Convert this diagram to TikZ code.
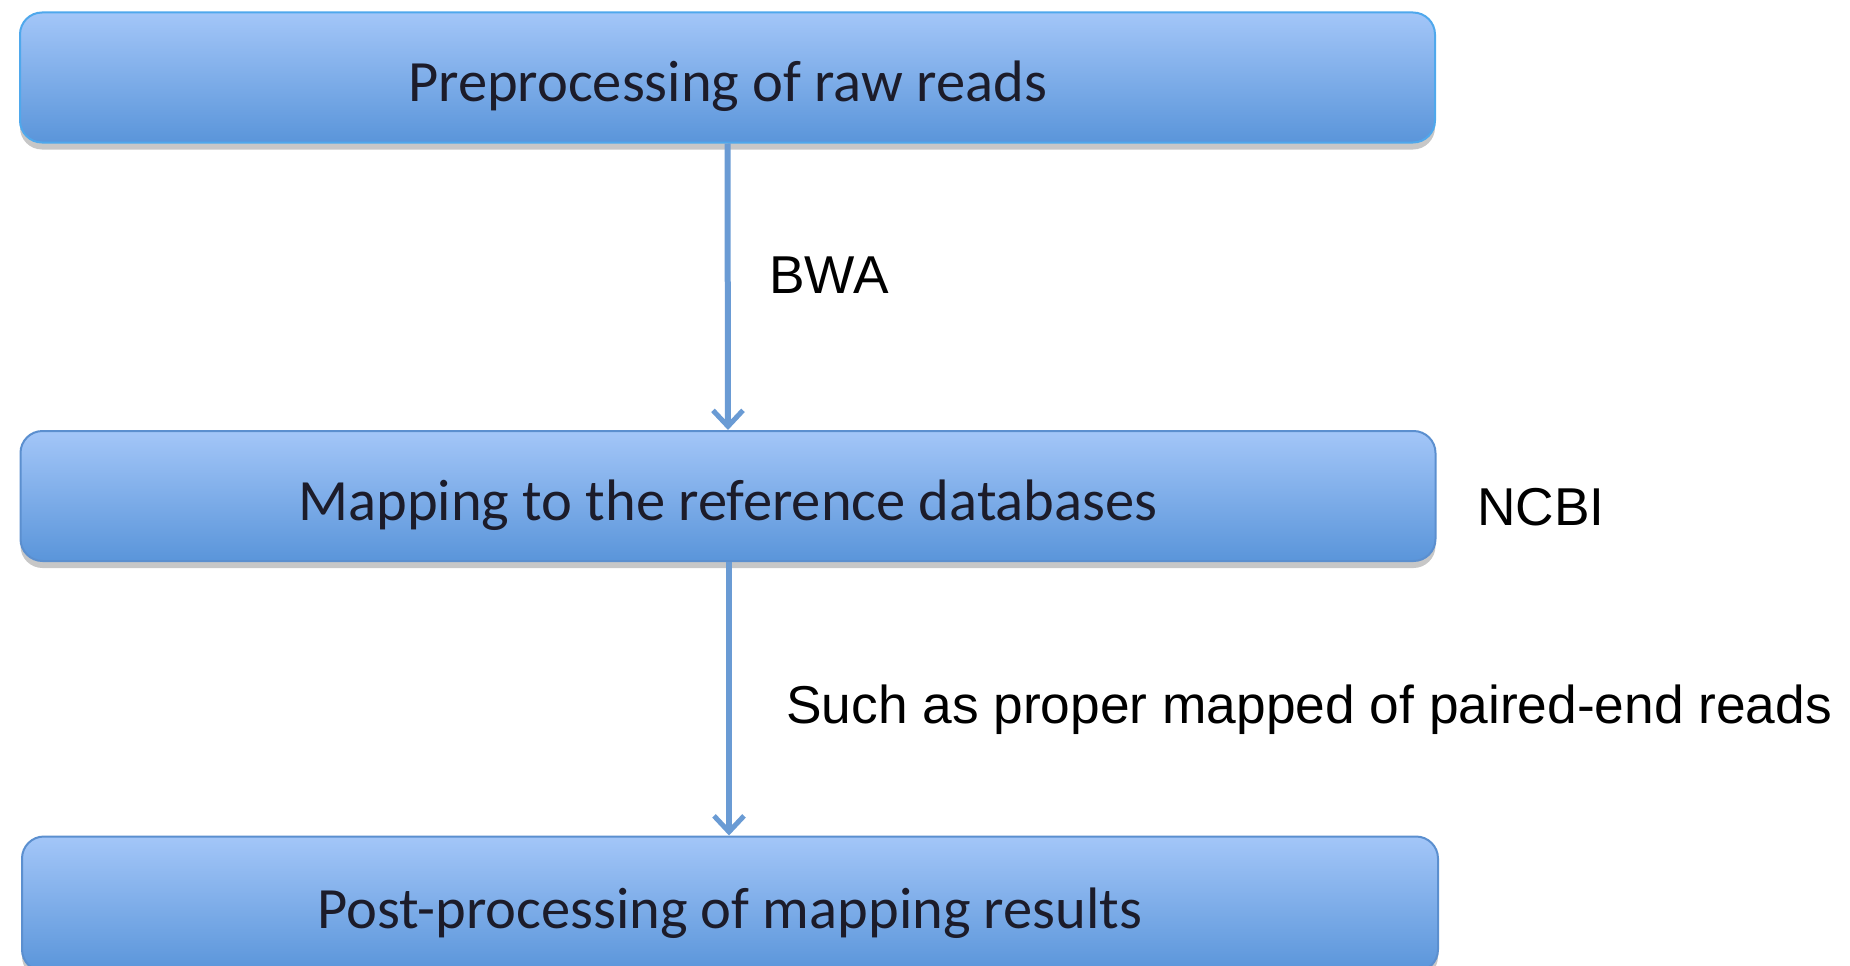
\documentclass[tikz,border=0pt]{standalone}
\usepackage{fontspec}
\setmainfont{Liberation Sans}
\newfontfamily\boxfont{Carlito}
\usetikzlibrary{shadows,arrows.meta}
\definecolor{boxtop}{HTML}{A3C6F8}
\definecolor{boxbot}{HTML}{5A95DA}
\definecolor{boxedge}{HTML}{4FA8EC}
\definecolor{boxedgeb}{HTML}{5B8FCF}
\definecolor{arrowc}{HTML}{6A9BD4}
\definecolor{txtc}{HTML}{1C1C2A}
\tikzset{
  stepbox/.style={rectangle, rounded corners=22pt, top color=boxtop, bottom color=boxbot,
    draw=boxedgeb, line width=2pt, minimum width=1415pt, minimum height=130pt,
    text=txtc, font=\boxfont\fontsize{58.5}{62}\selectfont, inner sep=0pt,
    text height=48pt, text depth=0pt,
    drop shadow={shadow xshift=0pt, shadow yshift=-7pt, opacity=0.22, fill=black}},
  flow/.style={draw=arrowc, line width=6pt, -{Straight Barb[length=16pt,width=30pt,line width=5pt]}},
  lbl/.style={anchor=west, font=\fontsize{53.3}{58}\selectfont, text=black, inner sep=0pt}
}
\begin{document}
\begin{tikzpicture}[x=1pt,y=-1pt]
\useasboundingbox (0,0) rectangle (1850,966);
\node[stepbox, draw=boxedge] (pre) at (727.5,77.5) {Preprocessing of raw reads};
\node[stepbox] (map) at (728,496) {Mapping to the reference databases};
\node[stepbox, minimum width=1416pt, minimum height=135pt] (post) at (730,904) {Post-processing of mapping results};
\draw[flow] (pre.south) -- (map.north);
\draw[flow] ([xshift=1pt]map.south) -- ([xshift=-1pt]post.north);
\node[lbl] (bwa) at (769,275) {BWA};
\node[lbl] (ncbi) at (1477,507) {NCBI};
\node[lbl] (such) at (786,710) {Such as proper mapped of paired-end reads};
\end{tikzpicture}
\end{document}
